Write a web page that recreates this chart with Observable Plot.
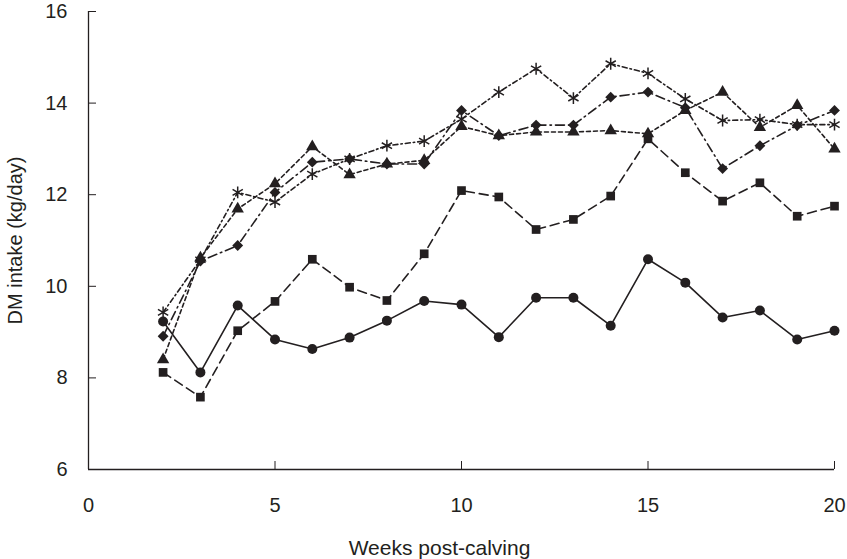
<!DOCTYPE html>
<html>
<head>
<meta charset="utf-8">
<script src="https://cdn.jsdelivr.net/npm/d3@7"></script>
<script src="https://cdn.jsdelivr.net/npm/@observablehq/plot@0.6"></script>
<style>
  html, body { margin: 0; padding: 0; background: #fff; }
  #chart svg { display: block; }
  #chart svg text { font-family: 'Liberation Sans', Arial, Helvetica, sans-serif; }
</style>
</head>
<body>
<div id="chart"></div>
<script>
const weeks = [2, 3, 4, 5, 6, 7, 8, 9, 10, 11, 12, 13, 14, 15, 16, 17, 18, 19, 20];
const circleSeries = [9.23, 8.12, 9.58, 8.84, 8.63, 8.88, 9.25, 9.68, 9.60, 8.89, 9.75, 9.75, 9.14, 10.59, 10.08, 9.32, 9.47, 8.84, 9.03];
const squareSeries = [8.12, 7.58, 9.03, 9.67, 10.59, 9.98, 9.69, 10.71, 12.09, 11.95, 11.24, 11.46, 11.97, 13.22, 12.48, 11.86, 12.26, 11.53, 11.75];
const diamondSeries = [8.91, 10.55, 10.89, 12.05, 12.71, 12.78, 12.67, 12.67, 13.84, 13.29, 13.52, 13.52, 14.13, 14.24, 13.90, 12.57, 13.07, 13.51, 13.84];
const triangleSeries = [8.40, 10.62, 11.69, 12.24, 13.05, 12.44, 12.67, 12.75, 13.49, 13.29, 13.37, 13.37, 13.40, 13.33, 13.84, 14.24, 13.47, 13.95, 13.00];
const starSeries = [9.43, 10.58, 12.05, 11.84, 12.45, 12.78, 13.07, 13.17, 13.65, 14.24, 14.75, 14.11, 14.86, 14.65, 14.09, 13.62, 13.64, 13.53, 13.53];

const xTicks = [0, 5, 10, 15, 20];
const yTicks = [6, 8, 10, 12, 14, 16];
const xLabel = "Weeks post-calving";
const yLabel = "DM intake (kg/day)";

const ink = "#231f20";
const font = "'Liberation Sans', Arial, Helvetica, sans-serif";

const seriesDefs = [
  {name: "circle", values: circleSeries, symbol: "circle", dash: null, r: 5, fill: true},
  {name: "square", values: squareSeries, symbol: "square", dash: "9,5", r: 4.9, fill: true},
  {name: "diamond", values: diamondSeries, symbol: "diamond2", dash: "9,4,1.5,4", r: 4.9, fill: true},
  {name: "triangle", values: triangleSeries, symbol: "triangle", dash: "4,3", r: 4.6, fill: true},
  {name: "star", values: starSeries, symbol: "asterisk", dash: "5,3,1.5,3", r: 5.6, fill: false}
];

const marks = [];
for (const s of seriesDefs) {
  const rows = weeks.map((w, i) => ({week: w, value: s.values[i]}));
  marks.push(Plot.line(rows, {
    x: "week", y: "value", stroke: ink, strokeWidth: 1.6,
    strokeDasharray: s.dash ?? undefined
  }));
  marks.push(Plot.dot(rows, {
    x: "week", y: "value", symbol: s.symbol, r: s.r,
    fill: s.fill ? ink : "none",
    stroke: s.fill ? "none" : ink,
    strokeWidth: s.fill ? undefined : 1.5
  }));
}

const chart = Plot.plot({
  width: 847,
  height: 559,
  marginLeft: 88,
  marginRight: 13,
  marginTop: 11,
  marginBottom: 90,
  style: {fontFamily: font, fontSize: "19px", color: ink, background: "#fff"},
  x: {domain: [0, 20]},
  y: {domain: [6, 16]},
  marks: [
    // inward ticks
    Plot.axisX({ticks: xTicks, tickSize: 8, dy: -8, tickFormat: () => "", label: null, stroke: ink}),
    Plot.axisY({ticks: yTicks, tickSize: 8, dx: 8, tickFormat: () => "", label: null, stroke: ink}),
    // tick labels
    Plot.axisX({ticks: xTicks, tickSize: 0, tickPadding: 28, fill: ink, fontSize: 20, label: null}),
    Plot.axisY({ticks: yTicks, tickSize: 0, tickPadding: 21, fill: ink, fontSize: 20,
      label: yLabel, labelAnchor: "center", labelArrow: "none", labelOffset: 81}),
    // x title
    Plot.text([xLabel], {frameAnchor: "bottom", text: d => d, dy: 79, dx: -22, fill: ink, fontSize: 21, lineAnchor: "middle"}),
    Plot.ruleX([0], {stroke: ink, strokeWidth: 1.3}),
    Plot.ruleY([6], {stroke: ink, strokeWidth: 1.3}),
    ...marks
  ]
});
document.getElementById("chart").appendChild(chart);
</script>
</body>
</html>
